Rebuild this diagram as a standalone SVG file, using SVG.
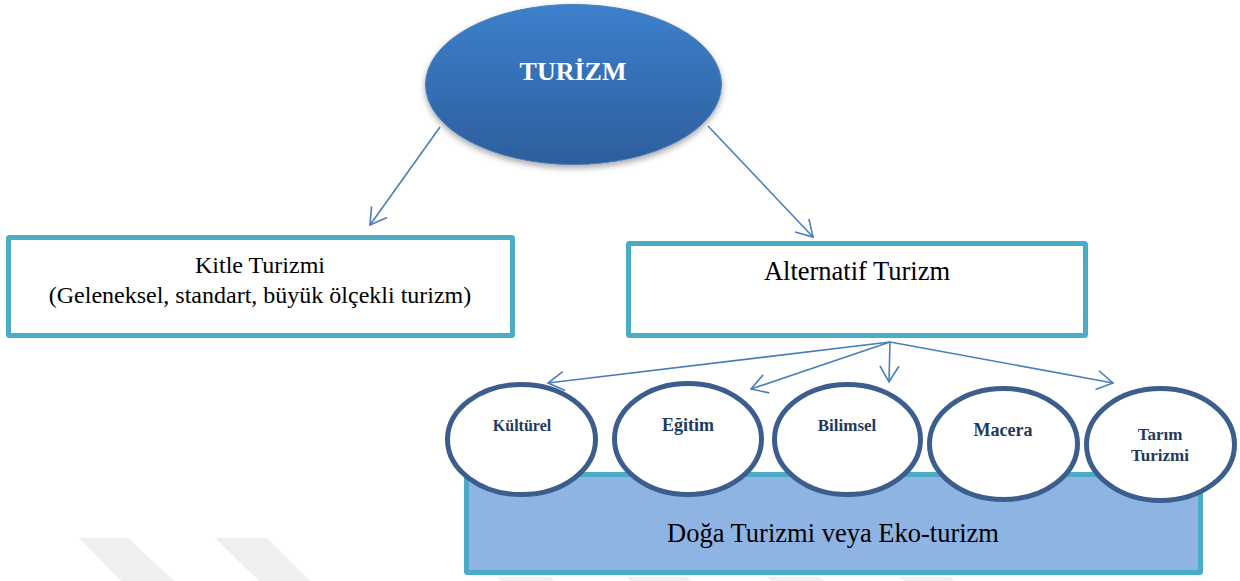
<svg xmlns="http://www.w3.org/2000/svg" width="1240" height="581" viewBox="0 0 1240 581">
  <style>
    .box { fill: #ffffff; stroke: #4bacc6; stroke-width: 5; }
    .eco { fill: #8eb4e3; stroke: #4bacc6; stroke-width: 5; }
    .circ { fill: #ffffff; stroke: #3b5e8c; stroke-width: 5; }
    .conn { fill: none; stroke: #4a7ebb; stroke-width: 1.6; marker-end: url(#arrow); }
    .serif { font-family: "Liberation Serif", "Times New Roman", serif; text-anchor: middle; }
    .ctext { font-family: "Liberation Serif", "Times New Roman", serif; font-weight: bold; fill: #1f3a5f; text-anchor: middle; }
    .wm { fill: #efefef; }
  </style>
  <defs>
    <linearGradient id="blue" x1="0" y1="0" x2="0" y2="1">
      <stop offset="0" stop-color="#3d80cc"/>
      <stop offset="1" stop-color="#2d5e9c"/>
    </linearGradient>
    <filter id="shadow" x="-20%" y="-20%" width="140%" height="150%">
      <feDropShadow dx="0" dy="3" stdDeviation="3" flood-color="#000000" flood-opacity="0.35"/>
    </filter>
    <marker id="arrow" markerUnits="userSpaceOnUse" viewBox="-20 -12 22 24" refX="0" refY="0" markerWidth="22" markerHeight="24" orient="auto">
      <path d="M-16,-9.5 L0,0 L-16,9.5" fill="none" stroke="#4a7ebb" stroke-width="1.6"/>
    </marker>
  </defs>

  <g id="watermark">
    <polygon class="wm" points="79,538 128,538 174,581 121,581"/>
    <polygon class="wm" points="215,538 267,538 310,581 259,581"/>
    <polygon class="wm" points="497,577 550,577 554,581 501,581"/>
    <polygon class="wm" points="627,577 687,577 691,581 631,581"/>
    <polygon class="wm" points="767,577 820,577 824,581 771,581"/>
    <polygon class="wm" points="900,577 950,577 954,581 904,581"/>
  </g>

  <g id="node-turizm">
    <ellipse cx="573.5" cy="84.5" rx="148" ry="80" fill="url(#blue)" stroke="#4a7ebb" stroke-width="1" filter="url(#shadow)"/>
    <text class="serif" x="573" y="80" font-size="26" font-weight="bold" fill="#ffffff">TURİZM</text>
  </g>

  <g id="node-kitle">
    <rect class="box" x="8.5" y="237.5" width="504" height="98" rx="1"/>
    <text class="serif" x="260" y="273" font-size="24" fill="#000000">Kitle Turizmi</text>
    <text class="serif" x="260" y="303" font-size="24" fill="#000000">(Geleneksel, standart, büyük ölçekli turizm)</text>
  </g>

  <g id="node-alternatif">
    <rect class="box" x="628.5" y="243.5" width="457" height="92" rx="1"/>
    <text class="serif" x="857" y="280" font-size="26.5" fill="#000000">Alternatif Turizm</text>
  </g>

  <g id="node-doga">
    <rect class="eco" x="466.5" y="474.5" width="734" height="98" rx="1"/>
    <text class="serif" x="833" y="542" font-size="26.5" fill="#000000">Doğa Turizmi veya Eko-turizm</text>
  </g>

  <g id="node-kulturel">
    <ellipse class="circ" cx="521.5" cy="439.5" rx="74" ry="55"/>
    <text class="ctext" x="522" y="431" font-size="16">Kültürel</text>
  </g>

  <g id="node-egitim">
    <ellipse class="circ" cx="688" cy="439" rx="73.5" ry="55.5"/>
    <text class="ctext" x="688" y="431" font-size="18">Eğitim</text>
  </g>

  <g id="node-bilimsel">
    <ellipse class="circ" cx="847.5" cy="439.5" rx="73" ry="55"/>
    <text class="ctext" x="847" y="431" font-size="17">Bilimsel</text>
  </g>

  <g id="node-macera">
    <ellipse class="circ" cx="1003.5" cy="444" rx="74" ry="55.5"/>
    <text class="ctext" x="1003" y="436" font-size="18">Macera</text>
  </g>

  <g id="node-tarim">
    <ellipse class="circ" cx="1160.5" cy="444.5" rx="74" ry="56"/>
    <text class="ctext" x="1160" y="440" font-size="17">Tarım</text>
    <text class="ctext" x="1160" y="461" font-size="17">Turizmi</text>
  </g>

  <g id="connectors">
    <line class="conn" x1="440" y1="127" x2="370" y2="225"/>
    <line class="conn" x1="708" y1="126" x2="813" y2="237"/>
    <line class="conn" x1="890" y1="342" x2="548" y2="383"/>
    <line class="conn" x1="890" y1="342" x2="751" y2="389"/>
    <line class="conn" x1="890" y1="342" x2="889" y2="382"/>
    <line class="conn" x1="890" y1="342" x2="1113" y2="383"/>
  </g>
</svg>
